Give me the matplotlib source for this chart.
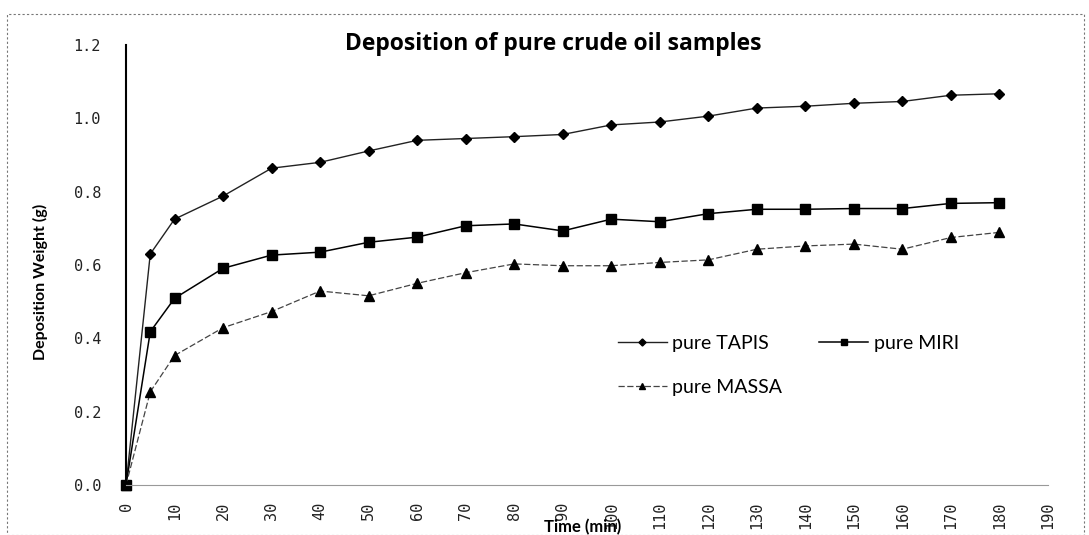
import matplotlib
matplotlib.use("Agg")
import matplotlib.pyplot as plt
from matplotlib.patches import Rectangle

time_min = [0, 5, 10, 20, 30, 40, 50, 60, 70, 80, 90, 100, 110, 120, 130, 140, 150, 160, 170, 180]
tapis = [0.0, 0.63, 0.725, 0.788, 0.864, 0.88, 0.911, 0.94, 0.945, 0.95, 0.956, 0.982, 0.99, 1.006, 1.028, 1.033, 1.041, 1.046, 1.063, 1.067]
miri = [0.0, 0.418, 0.509, 0.591, 0.627, 0.635, 0.662, 0.676, 0.707, 0.712, 0.693, 0.725, 0.718, 0.74, 0.752, 0.752, 0.754, 0.754, 0.768, 0.77]
massa = [0.0, 0.254, 0.353, 0.429, 0.473, 0.529, 0.516, 0.55, 0.579, 0.603, 0.598, 0.598, 0.607, 0.614, 0.643, 0.652, 0.657, 0.643, 0.675, 0.689]
series_names = ["pure TAPIS", "pure MIRI", "pure MASSA"]
x_ticks = list(range(0, 200, 10))
y_ticks = [0.0, 0.2, 0.4, 0.6, 0.8, 1.0, 1.2]

W, H = 1089, 535
fig = plt.figure(figsize=(W / 100, H / 100), dpi=100)
ax = fig.add_axes([126 / W, (H - 485) / H, (1048 - 126) / W, (485 - 45) / H])

h_tapis, = ax.plot(time_min, tapis, color="#222222", lw=1.0, marker="D", ms=5.5,
                   mfc="black", mec="black", label=series_names[0], clip_on=False)
h_miri, = ax.plot(time_min, miri, color="black", lw=1.1, marker="s", ms=7.5,
                  mfc="black", mec="black", label=series_names[1], clip_on=False)
h_massa, = ax.plot(time_min, massa, color="#444444", lw=0.9, ls=(0, (5, 2)), marker="^", ms=7,
                   mfc="black", mec="black", label=series_names[2], clip_on=False)

ax.set_xlim(0, 190)
ax.set_ylim(0, 1.2)
ax.set_xticks(x_ticks)
ax.set_yticks(y_ticks)
ax.set_yticklabels([f"{v:.1f}" for v in y_ticks], fontfamily="DejaVu Sans Mono", fontsize=11, color="#222222")
ax.set_xticklabels([str(v) for v in x_ticks], fontfamily="DejaVu Sans Mono", fontsize=11, rotation=90, color="#222222")
ax.tick_params(axis="y", length=0, pad=18)
ax.tick_params(axis="x", length=0, pad=12)

for s in ["top", "right"]:
    ax.spines[s].set_visible(False)
ax.spines["left"].set_color("black")
ax.spines["left"].set_linewidth(1.5)
ax.spines["bottom"].set_color("#999999")
ax.spines["bottom"].set_linewidth(0.8)
ax.spines["bottom"].set_linestyle((0, (3, 1)))

fig.text(553 / W, 1 - 44 / H, "Deposition of pure crude oil samples", ha="center", va="center",
         fontfamily="Open Sans", fontweight="bold", fontsize=16.5)
fig.text(583 / W, 1 - 527 / H, "Time (min)", ha="center", va="center",
         fontfamily="Lato", fontweight="bold", fontsize=12)
fig.text(40 / W, 1 - 282 / H, "Deposition Weight (g)", ha="center", va="center", rotation=90,
         fontfamily="Lato", fontweight="bold", fontsize=11.5)

ax_w = 1048 - 126
leg = ax.legend([h_tapis, h_massa, h_miri], [series_names[0], series_names[2], series_names[1]],
                ncol=2, loc="upper left",
                bbox_to_anchor=((618 - 126) / ax_w, (485 - 335) / 440),
                frameon=False, prop={"family": "Lato", "size": 14}, handlelength=2.5,
                columnspacing=1.9, labelspacing=1.4, handletextpad=0.3, markerscale=0.65,
                borderaxespad=0, borderpad=0)

fig.patches.append(Rectangle((7 / W, 0.0), (1084 - 7) / W, (H - 14) / H, transform=fig.transFigure,
                             fill=False, edgecolor="#777777", lw=0.8, ls=(0, (2, 2))))

fig.savefig("out.png", dpi=100)
